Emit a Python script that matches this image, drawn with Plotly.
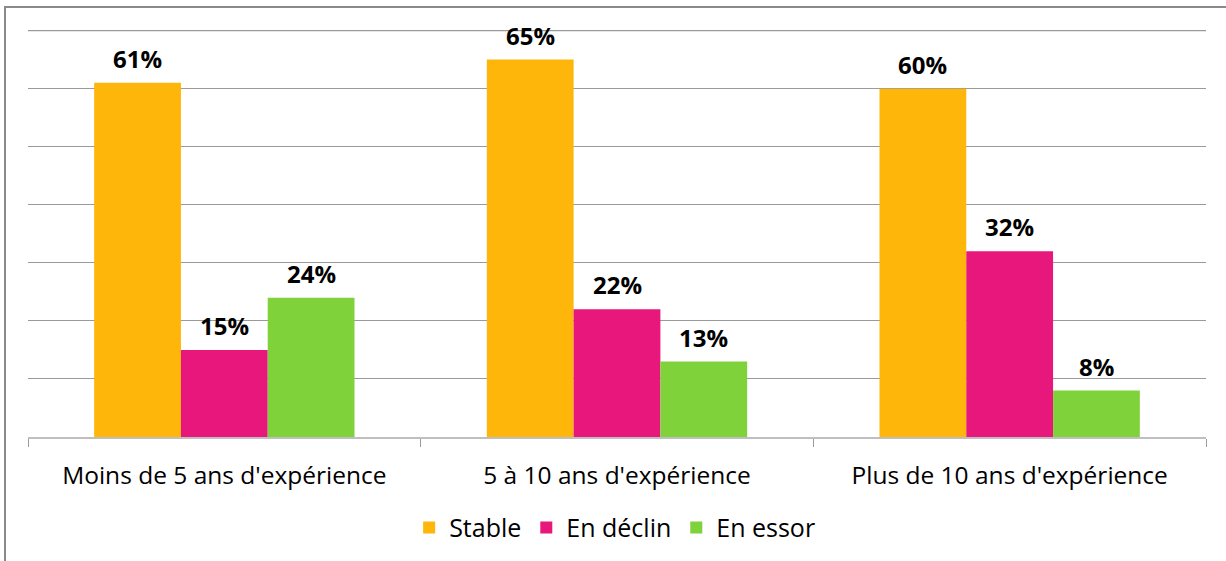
import plotly.graph_objects as go

categories = ["Moins de 5 ans d'expérience", "5 à 10 ans d'expérience", "Plus de 10 ans d'expérience"]
series_names = ["Stable", "En déclin", "En essor"]
stable = [61, 65, 60]
declin = [15, 22, 32]
essor = [24, 13, 8]
colors = ["#FFB60B", "#E8177B", "#80D23A"]
Y_MAX = 70

BARGAP = 0.337
fig = go.Figure()
all_series = [stable, declin, essor]
for name, vals, col in zip(series_names, all_series, colors):
    fig.add_trace(go.Bar(x=categories, y=vals, name=name, marker_color=col,
                         marker_line_width=0))

w = (1 - BARGAP) / len(all_series)
for k, vals in enumerate(all_series):
    for i, v in enumerate(vals):
        fig.add_annotation(x=i + (k - (len(all_series) - 1) / 2) * w, y=v, xref="x", yref="y",
                           text=f"<b>{v}%</b>", showarrow=False, yanchor="bottom",
                           yshift=6, font=dict(size=24, color="#000000", family="Open Sans"))

fig.update_layout(
    width=1226, height=561,
    margin=dict(l=28, r=20, t=30, b=123),
    paper_bgcolor="white", plot_bgcolor="white",
    barmode="group", bargap=BARGAP, bargroupgap=0,
    font=dict(family="Open Sans", size=24, color="#000000"),
    showlegend=True,
    legend=dict(orientation="h", x=0.498, xanchor="center", y=-0.22, yanchor="middle",
                font=dict(size=25), itemwidth=30, traceorder="normal"),
    xaxis=dict(showline=True, linecolor="#BFBFBF", linewidth=1.5, ticks="outside",
               tickson="boundaries", ticklen=8, tickcolor="#9A9A9A",
               tickfont=dict(size=24.5), ticklabelstandoff=16),
    yaxis=dict(range=[0, Y_MAX + 0.1], dtick=10, showticklabels=False, showgrid=True,
               gridcolor="#9A9A9A", gridwidth=1.2, zeroline=False),
)
# top gridline (plotly hides the one at the plot edge)
fig.add_shape(type="line", xref="paper", yref="y", x0=0, x1=1, y0=Y_MAX, y1=Y_MAX,
              line=dict(color="#9A9A9A", width=1.2), layer="below")
fig.add_shape(type="rect", xref="paper", yref="paper",
              x0=-23/1178, x1=1.2, y0=-0.5, y1=1 + 23/408,
              line=dict(color="#8A8A8A", width=2), fillcolor="rgba(0,0,0,0)", layer="below")

fig.write_html("out.html", config={"displayModeBar": False},
               post_script="document.body.style.margin='0';document.body.style.overflow='hidden';")
